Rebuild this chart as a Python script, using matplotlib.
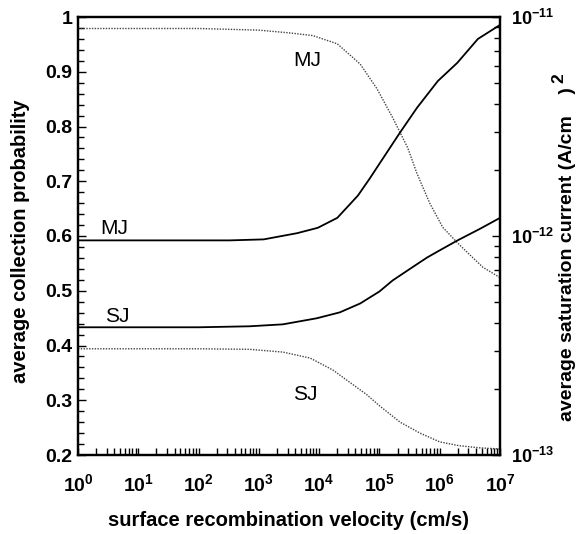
import numpy as np
import matplotlib
matplotlib.use("Agg")
import matplotlib.pyplot as plt
from matplotlib.ticker import FixedLocator, LogLocator, NullFormatter, MultipleLocator

plt.rcParams["font.family"] = ["Liberation Sans", "DejaVu Sans"]
plt.rcParams["mathtext.fontset"] = "custom"
plt.rcParams["mathtext.rm"] = "Liberation Sans"
plt.rcParams["mathtext.bf"] = "Liberation Sans:bold"
plt.rcParams["mathtext.default"] = "bf"

# collection probability (left axis, dotted)
mj_col_v = [1, 10, 100, 1000, 3200, 7900, 2.0e4, 4.8e4, 9.1e4, 1.66e5, 2.95e5, 4.2e5, 6.9e5, 1.12e6, 1.95e6, 3.2e6, 5.2e6, 1e7]
mj_col_p = [0.979, 0.979, 0.979, 0.976, 0.971, 0.966, 0.951, 0.914, 0.869, 0.816, 0.761, 0.714, 0.659, 0.616, 0.588, 0.565, 0.543, 0.524]
sj_col_v = [1, 10, 100, 700, 2500, 7100, 1.7e4, 3.2e4, 6.2e4, 1.0e5, 2.2e5, 4.7e5, 1e6, 2.1e6, 4.7e6, 1e7]
sj_col_p = [0.394, 0.394, 0.394, 0.393, 0.388, 0.377, 0.355, 0.333, 0.310, 0.290, 0.260, 0.240, 0.224, 0.217, 0.213, 0.211]

# saturation current (right axis, solid)
mj_sat_v = [1, 10, 100, 330, 1200, 4300, 9500, 2.0e4, 4.4e4, 6.9e4, 1.4e5, 2.2e5, 4.2e5, 9.3e5, 1.95e6, 4.3e6, 1e7]
mj_sat_j = [9.55e-13, 9.55e-13, 9.55e-13, 9.55e-13, 9.65e-13, 1.03e-12, 1.09e-12, 1.21e-12, 1.53e-12, 1.83e-12,
            2.46e-12, 2.97e-12, 3.85e-12, 5.1e-12, 6.17e-12, 7.94e-12, 9.2e-12]
sj_sat_v = [1, 10, 100, 700, 2500, 9100, 2.2e4, 4.8e4, 1.0e5, 1.66e5, 4.4e5, 6.2e5, 1.0e6, 1.95e6, 4.7e6, 1e7]
sj_sat_j = [3.83e-13, 3.83e-13, 3.83e-13, 3.87e-13, 3.95e-13, 4.21e-13, 4.48e-13, 4.92e-13, 5.58e-13, 6.27e-13,
            7.5e-13, 7.98e-13, 8.6e-13, 9.53e-13, 1.08e-12, 1.21e-12]

x_ticks = [1, 10, 100, 1e3, 1e4, 1e5, 1e6, 1e7]
x_labels = [r"$10^{0}$", r"$10^{1}$", r"$10^{2}$", r"$10^{3}$", r"$10^{4}$", r"$10^{5}$", r"$10^{6}$", r"$10^{7}$"]
left_ticks = [0.2, 0.3, 0.4, 0.5, 0.6, 0.7, 0.8, 0.9, 1.0]
left_labels = ["0.2", "0.3", "0.4", "0.5", "0.6", "0.7", "0.8", "0.9", "1"]
right_ticks = [1e-13, 1e-12, 1e-11]
right_labels = [r"$10^{-13}$", r"$10^{-12}$", r"$10^{-11}$"]

W, H = 578, 534
fig = plt.figure(figsize=(W / 100, H / 100), dpi=100)
ax = fig.add_axes([78 / W, 1 - 455 / H, (500 - 78) / W, (455 - 17) / H])
ax2 = ax.twinx()

ax.plot(mj_col_v, mj_col_p, color="#444444", linestyle=(0, (1, 1)), linewidth=1.0)
ax.plot(sj_col_v, sj_col_p, color="#444444", linestyle=(0, (1, 1)), linewidth=1.0)
ax2.plot(mj_sat_v, mj_sat_j, color="black", linewidth=1.3)
ax2.plot(sj_sat_v, sj_sat_j, color="black", linewidth=1.3)

ax.set_xscale("log")
ax.set_xlim(1, 1e7)
ax.set_ylim(0.2, 1.0)
ax2.set_yscale("log")
ax2.set_ylim(1e-13, 1e-11)

ax.xaxis.set_major_locator(FixedLocator(x_ticks))
ax.set_xticklabels(x_labels, fontsize=14)
ax.xaxis.set_minor_locator(LogLocator(base=10, subs=np.arange(2, 10)))
ax.xaxis.set_minor_formatter(NullFormatter())
ax.set_yticks(left_ticks)
ax.set_yticklabels(left_labels, fontsize=14, fontweight="bold")
ax.yaxis.set_minor_locator(MultipleLocator(0.02))

ax2.yaxis.set_major_locator(FixedLocator(right_ticks))
ax2.set_yticklabels(right_labels, fontsize=13)
ax2.yaxis.set_minor_locator(LogLocator(base=10, subs=np.arange(2, 10)))
ax2.yaxis.set_minor_formatter(NullFormatter())

ax.tick_params(axis="x", which="both", direction="in", top=False, length=5, width=1, pad=13)
ax.tick_params(axis="y", which="major", direction="in", right=False, length=6, width=1, pad=4)
ax.tick_params(axis="y", which="minor", direction="in", right=False, length=4, width=1)
ax2.tick_params(axis="y", which="major", direction="in", length=6, width=1, pad=8)
ax2.tick_params(axis="y", which="minor", direction="in", length=4, width=1)

for a in (ax, ax2):
    for s in a.spines.values():
        s.set_linewidth(1.6)

fig.text(289 / W, 1 - 521 / H, "surface recombination velocity (cm/s)", fontsize=14.5, fontweight="bold",
         ha="center", va="center")
fig.text(21 / W, 1 - 241 / H, "average collection probability", fontsize=14.5, fontweight="bold",
         ha="center", va="center", rotation=90)
fig.text(568 / W, 1 - 254 / H, "average saturation current (A/cm    )", fontsize=14, fontweight="bold",
         ha="center", va="center", rotation=90)
fig.text(559 / W, 1 - 78 / H, "2", fontsize=12.5, fontweight="bold", ha="center", va="center", rotation=90)

fig.text(307 / W, 1 - 60 / H, "MJ", fontsize=15, ha="center", va="center")
fig.text(114 / W, 1 - 229 / H, "MJ", fontsize=15, ha="center", va="center")
fig.text(117 / W, 1 - 317 / H, "SJ", fontsize=15, ha="center", va="center")
fig.text(305 / W, 1 - 395 / H, "SJ", fontsize=15, ha="center", va="center")

fig.savefig("out.png", dpi=100)
plt.close(fig)
